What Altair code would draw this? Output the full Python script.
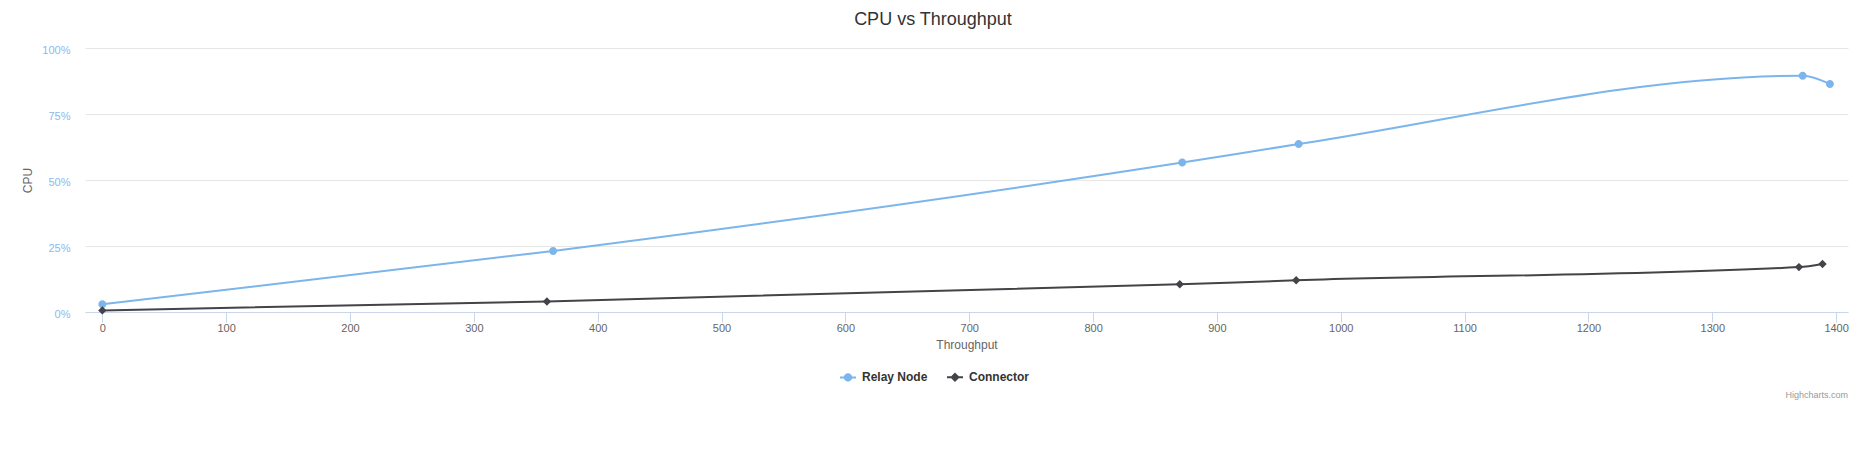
import altair as alt
import pandas as pd

# ---- data ----
series_names = ["Relay Node", "Connector"]
relay_x = [0, 364, 872, 966, 1373, 1395]
relay_y = [2.9, 23.1, 56.6, 63.6, 89.5, 86.4]
conn_x = [0, 359, 870, 964, 1370, 1389]
conn_y = [0.6, 4.0, 10.5, 12.0, 17.0, 18.2]
x_ticks = [0, 100, 200, 300, 400, 500, 600, 700, 800, 900, 1000, 1100, 1200, 1300, 1400]
y_ticks = [0, 25, 50, 75, 100]

df = pd.concat([
    pd.DataFrame({"series": series_names[0], "throughput": relay_x, "cpu": relay_y}),
    pd.DataFrame({"series": series_names[1], "throughput": conn_x, "cpu": conn_y}),
], ignore_index=True)

FONT = "Liberation Sans"
colors = ["#7cb5ec", "#434348"]
# marker shapes with a short line segment (line only visible in legend via stroke)
shape_paths = [
    "M-1,0H1M-0.4,0A0.4,0.4,0,1,0,0.4,0A0.4,0.4,0,1,0,-0.4,0Z",
    "M-1,0H1M0,-0.42L0.42,0L0,0.42L-0.42,0Z",
]

W, H = 1763, 264

x_enc = alt.X(
    "throughput:Q",
    scale=alt.Scale(domain=[-14, 1409.6], nice=False, zero=False),
    axis=alt.Axis(
        title="Throughput", values=x_ticks, grid=False, format="d",
        domainColor="#ccd6eb", tickColor="#ccd6eb", tickSize=10,
        labelColor="#666666", labelFontSize=11, labelFont=FONT, labelPadding=0,
        titleColor="#666666", titleFontSize=12, titleFont=FONT, titleFontWeight="normal",
        titleY=32, titleBaseline="middle", labelFlush=False,
    ),
)
y_enc = alt.Y(
    "cpu:Q",
    scale=alt.Scale(domain=[0, 100], nice=False),
    axis=alt.Axis(
        title="CPU", values=y_ticks, labelExpr="datum.value + '%'",
        domain=False, ticks=False, tickSize=0, grid=True, gridColor="#e6e6e6",
        labelColor="#8ab9ee", labelFontSize=11, labelFont=FONT, labelPadding=15,
        labelOffset=2.5, labelBaseline="middle",
        titleColor="#666666", titleFontSize=12, titleFont=FONT, titleFontWeight="normal",
        titleAngle=270, titleX=-58, titleY=132, titleAlign="center", titleBaseline="middle",
    ),
)

legend = alt.Legend(
    title=None, orient="none", legendX=754, legendY=320, direction="horizontal",
    labelFont=FONT, labelFontSize=12, labelFontWeight="bold", labelColor="#333333",
    symbolSize=256, symbolStrokeWidth=2, symbolOpacity=1, labelOffset=5,
    columnPadding=15, padding=0,
)

lines = alt.Chart(df).transform_calculate(
    lc="datum.series === 'Relay Node' ? '#7cb5ec' : '#434348'"
).mark_line(interpolate="monotone", strokeWidth=2).encode(
    x=x_enc, y=y_enc,
    detail="series:N",
    color=alt.Color("lc:N", scale=None),
)

points = alt.Chart(df).mark_point(filled=True, size=400, opacity=1).encode(
    x=x_enc, y=y_enc,
    color=alt.Color("series:N", scale=alt.Scale(domain=series_names, range=colors), legend=legend),
    stroke=alt.Stroke("series:N", scale=alt.Scale(domain=series_names, range=colors), legend=legend),
    shape=alt.Shape("series:N", scale=alt.Scale(domain=series_names, range=shape_paths), legend=legend),
    strokeWidth=alt.value(0),
)

credits = alt.Chart(pd.DataFrame({"t": ["Highcharts.com"]})).mark_text(
    align="right", baseline="middle", fontSize=9, font=FONT, color="#999999"
).encode(x=alt.value(W), y=alt.value(347.4), text="t:N")

chart = alt.layer(lines, points, credits).properties(
    width=W, height=H,
    title=alt.TitleParams(
        "CPU vs Throughput", fontSize=18, font=FONT, fontWeight="normal",
        color="#333333", anchor="middle", dx=-33.5, offset=16,
    ),
    autosize=alt.AutoSizeParams(type="none"),
    padding={"left": 77, "top": 40, "right": 3, "bottom": 100},
).configure_view(stroke=None)

chart.save("out.html", embed_options={"renderer": "svg", "actions": False})
